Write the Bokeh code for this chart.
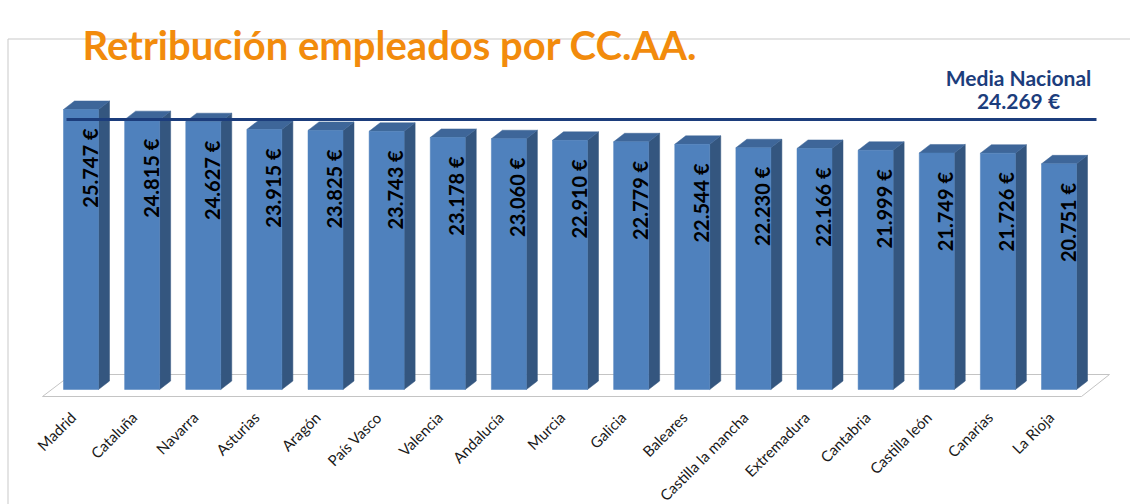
import numpy as np
from bokeh.plotting import figure
from bokeh.models import Range1d
from bokeh.core.properties import value
from bokeh.embed import file_html
from bokeh.resources import INLINE

# ---------------- data ----------------
categories = ["Madrid", "Cataluña", "Navarra", "Asturias", "Aragón", "País Vasco",
              "Valencia", "Andalucía", "Murcia", "Galicia", "Baleares",
              "Castilla la mancha", "Extremadura", "Cantabria", "Castilla león",
              "Canarias", "La Rioja"]
values = [25747, 24815, 24627, 23915, 23825, 23743, 23178, 23060, 22910, 22779,
          22544, 22230, 22166, 21999, 21749, 21726, 20751]
media_nacional = 24269
title_text = "Retribución empleados por CC.AA."
media_title = "Media Nacional"


def euro(v):
    return f"{v:,}".replace(",", ".") + " €"


value_labels = [euro(v) for v in values]
media_label = euro(media_nacional)

# ---------------- layout (pixels) ----------------
W, H = 1130, 504
X0 = 80.5        # px of first bar's front-face centre
STEP = 61.125    # px between categories
Y0 = 389         # px of value 0 (bar bottoms)
SCALE = 0.010875  # px per euro
HALF = 17.5 / STEP        # half front-face width (data units)
DEPTH_X = 11 / STEP       # 3D depth in x (data)
DEPTH_Y = 8.5 / SCALE     # 3D depth in y (data)

FRONT = "#4F81BD"
SIDE = "#34567F"
TOP = "#3E6699"
NAVY = "#1C3D7C"
ORANGE = "#F28B0C"


def xd(px):
    return (px - X0) / STEP


def yd(py):
    return (Y0 - py) / SCALE


p = figure(width=W, height=H, output_backend="svg", toolbar_location=None,
           x_range=Range1d(xd(0), xd(W)), y_range=Range1d(yd(H), yd(0)),
           min_border=0, background_fill_color="white", border_fill_color="white")
p.axis.visible = False
p.grid.visible = False
p.outline_line_color = None

# frame (left + top)
p.line(x=[xd(7.5), xd(7.5), xd(W + 10)], y=[yd(H + 10), yd(38.5), yd(38.5)],
       line_color="#C9C9C9", line_width=1)

# floor
p.patch(x=[xd(42), xd(1081), xd(1109), xd(71)], y=[yd(396), yd(396), yd(374), yd(374)],
        fill_color="white", line_color="#C4C4C4", line_width=1)

idx = np.arange(len(values))
vals = np.array(values, dtype=float)

side_xs, side_ys, top_xs, top_ys = [], [], [], []
for i, v in zip(idx, vals):
    r = i + HALF
    l = i - HALF
    side_xs.append([r, r + DEPTH_X, r + DEPTH_X, r])
    side_ys.append([0, DEPTH_Y, v + DEPTH_Y, v])
    top_xs.append([l, l + DEPTH_X, r + DEPTH_X, r])
    top_ys.append([v, v + DEPTH_Y, v + DEPTH_Y, v])

p.patches(xs=side_xs, ys=side_ys, fill_color=SIDE, line_color=SIDE, line_width=0.5)
p.patches(xs=top_xs, ys=top_ys, fill_color=TOP, line_color=TOP, line_width=0.5)
p.quad(left=idx - HALF, right=idx + HALF, bottom=0, top=vals,
       fill_color=FRONT, line_color=FRONT, line_width=0.5)

# value labels (rotated, inside end)
p.text(x=idx, y=vals, text=value_labels, angle=np.pi / 2, x_offset=8.5, y_offset=19,
       text_align="right", text_baseline="middle", text_color="black",
       text_font=value("Lato"), text_font_style="bold", text_font_size="20px")

# category labels
p.text(x=idx, y=np.zeros(len(idx)), text=categories, angle=np.pi / 4,
       x_offset=-8, y_offset=25, text_align="right", text_baseline="middle",
       text_color="#1A1A1A", text_font=value("Lato"), text_font_size="15px")

# national average line
LINE_LIFT_PX = 6
y_media = media_nacional + LINE_LIFT_PX / SCALE
p.line(x=[xd(66), xd(1096)], y=[y_media, y_media], line_color=NAVY, line_width=3)

# media label
p.text(x=[xd(1018), xd(1018)], y=[yd(77), yd(100)], text=[media_title, media_label],
       text_align="center", text_baseline="alphabetic", text_color=NAVY,
       text_font=value("Lato"), text_font_style="bold", text_font_size="21px")

# title
p.text(x=[xd(82)], y=[yd(44)], text=[title_text], text_align="left",
       text_baseline="alphabetic", text_color=ORANGE,
       text_font=value("Lato"), text_font_style="bold", text_font_size="40px")

open("out.html", "w").write(file_html(p, INLINE))
